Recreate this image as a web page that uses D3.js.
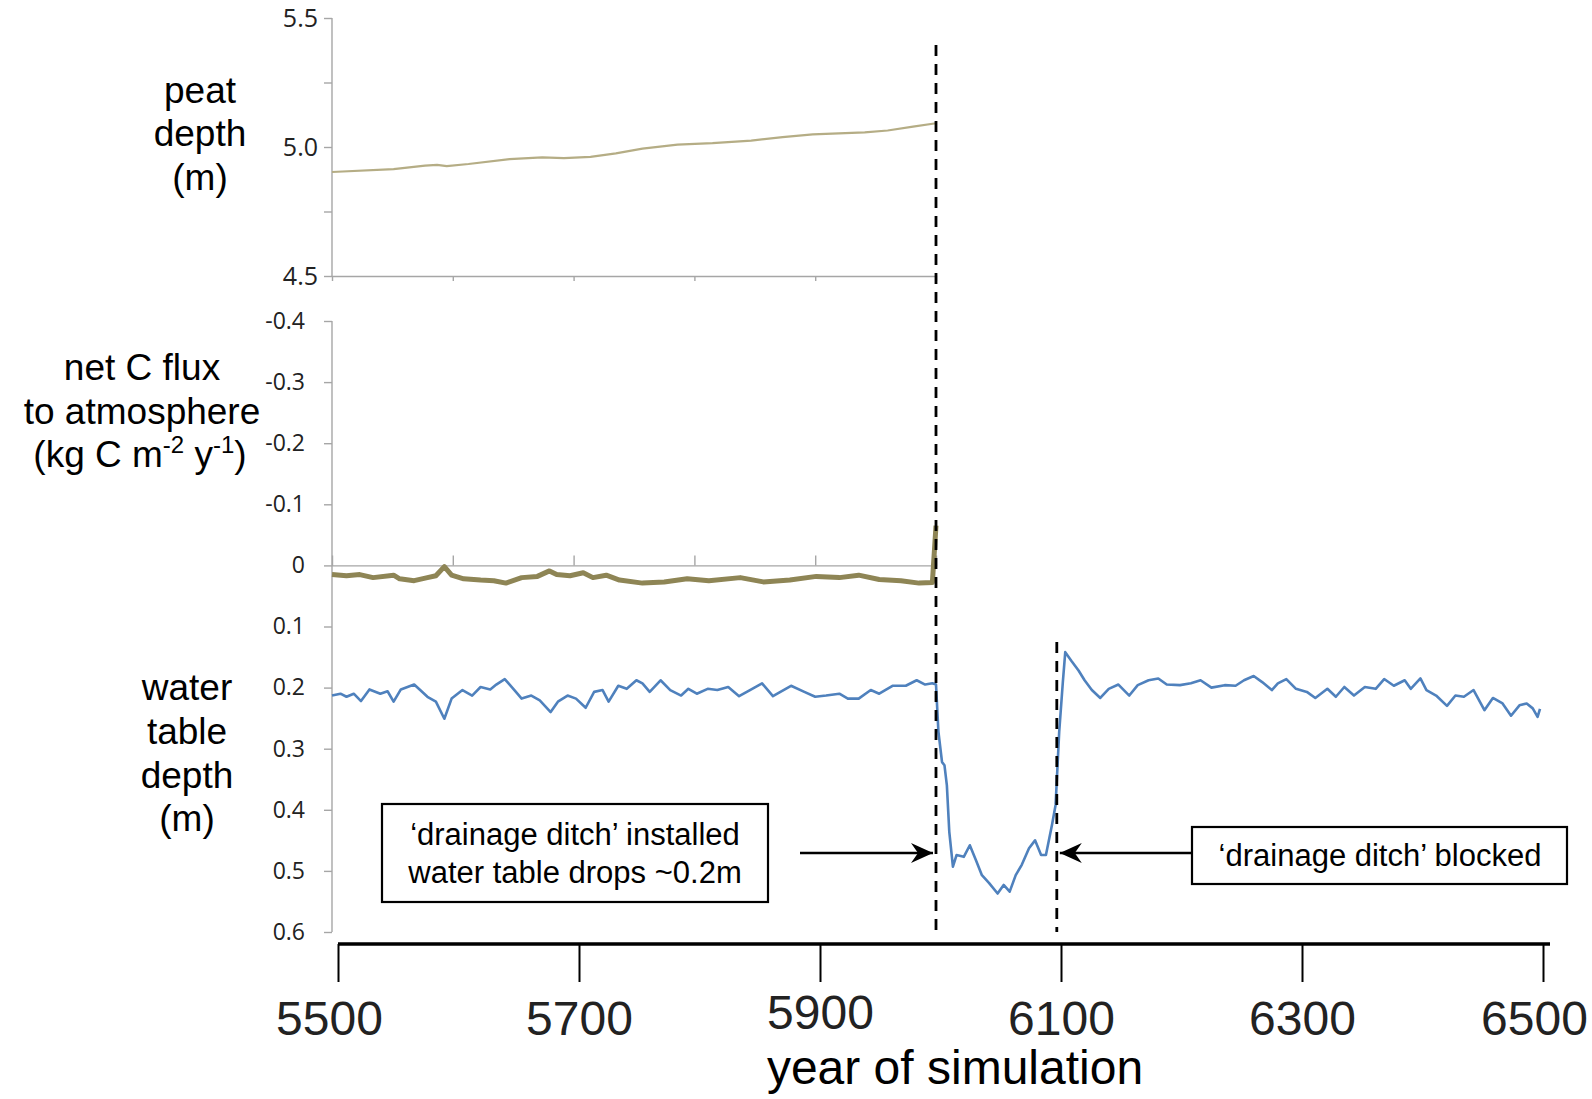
<!DOCTYPE html>
<html>
<head>
<meta charset="utf-8">
<script src="https://cdn.jsdelivr.net/npm/d3@7"></script>
<style>
  body { margin: 0; background: #fff; }
  .tick text { font-family: "Open Sans", sans-serif; fill: #222; }
</style>
</head>
<body>
<script>
// DATA
const peatYears = [5500,5551,5577,5587,5595,5613,5647,5674,5692,5714,5735,5757,5786,5815,5847,5873,5898,5941,5960,5981,6000];
const peatDepth = [4.903,4.914,4.928,4.931,4.926,4.934,4.953,4.960,4.957,4.962,4.975,4.994,5.009,5.015,5.025,5.038,5.049,5.057,5.064,5.079,5.092];

const fluxYears = [5500,5512,5523,5534,5551,5556,5568,5579,5586,5593,5599,5609,5623,5634,5644,5657,5670,5680,5686,5697,5708,5716,5727,5738,5757,5775,5794,5812,5838,5857,5879,5901,5920,5936,5953,5971,5986,5997,6000];
const fluxValues = [0.015,0.017,0.015,0.020,0.016,0.022,0.025,0.020,0.017,0.002,0.016,0.022,0.024,0.025,0.029,0.020,0.018,0.009,0.015,0.017,0.012,0.020,0.016,0.024,0.029,0.027,0.022,0.025,0.020,0.027,0.024,0.018,0.020,0.016,0.023,0.025,0.029,0.028,-0.065];

const waterYears = [5500,5507,5512,5518,5524,5531,5540,5546,5551,5557,5568,5573,5579,5586,5593,5599,5608,5616,5623,5631,5636,5643,5651,5657,5665,5672,5681,5687,5695,5702,5710,5717,5724,5729,5737,5744,5752,5757,5763,5772,5780,5789,5795,5802,5811,5819,5828,5837,5846,5856,5865,5880,5891,5900,5909,5920,5927,5936,5946,5953,5964,5975,5984,5991,5997,
  6000,6002,6005,6007,6009,6011,6014,6017,6023,6028,6033,6038,6044,6051,6056,6061,6066,6071,6077,6082,6087,6091,6096,6099,
  6102,6105,6107,6112,6118,6123,6129,6136,6143,6151,6160,6167,6176,6184,6191,6202,6211,6219,6228,6239,6248,6255,6263,6270,6278,6283,6290,6298,6307,6314,6324,6331,6338,6346,6355,6364,6371,6379,6388,6393,6401,6406,6414,6423,6430,6437,6445,6454,6461,6469,6476,6483,6489,6494,6498,6500];
const waterDepth = [0.213,0.210,0.215,0.210,0.222,0.203,0.210,0.206,0.223,0.203,0.195,0.204,0.215,0.223,0.251,0.218,0.204,0.213,0.199,0.203,0.195,0.186,0.204,0.218,0.213,0.221,0.240,0.223,0.213,0.218,0.233,0.207,0.204,0.223,0.197,0.202,0.188,0.193,0.207,0.188,0.204,0.213,0.202,0.210,0.202,0.204,0.199,0.214,0.204,0.193,0.214,0.197,0.207,0.215,0.213,0.210,0.218,0.218,0.204,0.210,0.197,0.197,0.188,0.195,0.193,
  0.195,0.272,0.322,0.327,0.360,0.436,0.493,0.474,0.477,0.458,0.482,0.507,0.520,0.537,0.523,0.534,0.507,0.490,0.463,0.450,0.474,0.474,0.425,0.392,
  0.272,0.191,0.142,0.156,0.172,0.188,0.204,0.217,0.202,0.195,0.213,0.196,0.188,0.185,0.195,0.196,0.193,0.188,0.200,0.196,0.197,0.188,0.181,0.191,0.204,0.193,0.186,0.202,0.207,0.217,0.202,0.215,0.199,0.213,0.199,0.202,0.186,0.197,0.188,0.202,0.185,0.204,0.213,0.230,0.213,0.215,0.204,0.237,0.217,0.226,0.246,0.229,0.226,0.234,0.248,0.235];

const topTicks = [4.5, 4.75, 5.0, 5.25, 5.5];
const topLabels = [4.5, 5.0, 5.5];
const lowTicks = [-0.4,-0.3,-0.2,-0.1,0,0.1,0.2,0.3,0.4,0.5,0.6];
const panelYearTicks = [5600, 5700, 5800, 5900];
const yearTicks = [5500, 5700, 5900, 6100, 6300, 6500];
const ditchYears = [6000, 6100];

//SIZES
const W = 1592, H = 1099;
const svg = d3.select("body").append("svg").attr("width", W).attr("height", H);

//SCALES
const x = d3.scaleLinear().domain([5500, 6500]).range([332, 1540]);
const yTop = d3.scaleLinear().domain([4.5, 5.5]).range([276, 18]);
const yLow = d3.scaleLinear().domain([-0.4, 0.6]).range([321, 932]);
const xBottom = d3.scaleLinear().domain([5500, 6500]).range([338, 1543]);

const grey = "#a6a6a6";

//TOP Y AXIS
const topAxis = svg.append("g").attr("transform", `translate(${x(5500)},0)`)
  .call(d3.axisLeft(yTop).tickValues(topTicks).tickSize(8).tickPadding(6)
    .tickFormat(d => topLabels.includes(d) ? d3.format(".1f")(d) : ""));
topAxis.selectAll("text").style("font-size", "25px");

//TOP X AXIS (4.5 line)
const topX = svg.append("g").attr("transform", `translate(0,${yTop(4.5)})`)
  .call(d3.axisBottom(x.copy().domain([5500, 6000]).range([x(5500), x(6000)])).tickValues(panelYearTicks).tickSize(5).tickFormat(""));

//LOWER Y AXIS
const lowAxis = svg.append("g").attr("transform", `translate(${x(5500)},0)`)
  .call(d3.axisLeft(yLow).tickValues(lowTicks).tickSize(8).tickPadding(19)
    .tickFormat(d => d === 0 ? "0" : d3.format(".1f")(d).replace("−", "-")));
lowAxis.selectAll("text").style("font-size", "23px");

//ZERO LINE of flux panel
const zeroAxis = svg.append("g").attr("transform", `translate(0,${yLow(0)})`)
  .call(d3.axisTop(x.copy().domain([5500, 6000]).range([x(5500), x(6000)])).tickValues(panelYearTicks).tickSize(10).tickFormat(""));

[topAxis, topX, lowAxis, zeroAxis].forEach(g => {
  g.selectAll("path.domain").attr("stroke", grey).attr("stroke-width", 1.4);
  g.selectAll(".tick line").attr("stroke", grey).attr("stroke-width", 1.4);
});
topAxis.select("path.domain").attr("d", `M0,${yTop(5.5)}V${yTop(4.5)}`);
lowAxis.select("path.domain").attr("d", `M0,${yLow(-0.4)}V${yLow(0.6)}`);

//LINES
const line = (xs, ys, yScale) => d3.line().x(i => x(xs[i])).y(i => yScale(ys[i]))(d3.range(xs.length));

svg.append("path").attr("fill", "none").attr("stroke", "#b5ad85").attr("stroke-width", 2.2)
  .attr("d", line(peatYears, peatDepth, yTop));

svg.append("path").attr("fill", "none").attr("stroke", "#8e8555").attr("stroke-width", 5)
  .attr("stroke-linejoin", "round")
  .attr("d", line(fluxYears, fluxValues, yLow));

svg.append("path").attr("fill", "none").attr("stroke", "#4f81bd").attr("stroke-width", 2.6)
  .attr("stroke-linejoin", "round")
  .attr("d", line(waterYears, waterDepth, yLow));

//DASHED LINES
const dashTops = [45, 642];
svg.selectAll(".ditch").data(ditchYears).join("line").classed("ditch", true)
  .attr("x1", d => x(d)).attr("x2", d => x(d))
  .attr("y1", (d, i) => dashTops[i]).attr("y2", yLow(0.6))
  .attr("stroke", "#000").attr("stroke-width", 2.8).attr("stroke-dasharray", "11,8");

//ARROWS
svg.append("defs").append("marker").attr("id", "arr")
  .attr("markerUnits", "userSpaceOnUse").attr("markerWidth", 24).attr("markerHeight", 22)
  .attr("refX", 22).attr("refY", 10).attr("orient", "auto")
  .append("path").attr("d", "M0,0 L22,10 L0,20 L7,10 Z").attr("fill", "#000");

const arrowY = 853;
svg.append("line").attr("x1", 800).attr("x2", x(6000) - 3).attr("y1", arrowY).attr("y2", arrowY)
  .attr("stroke", "#000").attr("stroke-width", 2.5).attr("marker-end", "url(#arr)");
svg.append("line").attr("x1", 1192).attr("x2", x(6100) + 3).attr("y1", arrowY).attr("y2", arrowY)
  .attr("stroke", "#000").attr("stroke-width", 2.5).attr("marker-end", "url(#arr)");

//BOXES
const font = "'Liberation Sans', Arial, sans-serif";
svg.append("rect").attr("x", 382).attr("y", 804).attr("width", 386).attr("height", 98)
  .attr("fill", "#fff").attr("stroke", "#000").attr("stroke-width", 2.2);
svg.append("text").attr("x", 575).attr("y", 845).attr("text-anchor", "middle")
  .style("font-family", font).style("font-size", "31px").text("‘drainage ditch’ installed");
svg.append("text").attr("x", 575).attr("y", 883).attr("text-anchor", "middle")
  .style("font-family", font).style("font-size", "31px").text("water table drops ~0.2m");

svg.append("rect").attr("x", 1192).attr("y", 827).attr("width", 375).attr("height", 57)
  .attr("fill", "#fff").attr("stroke", "#000").attr("stroke-width", 2.2);
svg.append("text").attr("x", 1380).attr("y", 866).attr("text-anchor", "middle")
  .style("font-family", font).style("font-size", "31px").text("‘drainage ditch’ blocked");

//LEFT TITLES
const titles = [
  {x: 200, y: 103, t: "peat"}, {x: 200, y: 146, t: "depth"}, {x: 200, y: 190, t: "(m)"},
  {x: 142, y: 380, t: "net C flux"}, {x: 142, y: 424, t: "to atmosphere"},
  {x: 187, y: 700, t: "water"}, {x: 187, y: 744, t: "table"}, {x: 187, y: 788, t: "depth"}, {x: 187, y: 831, t: "(m)"}
];
svg.selectAll(".title").data(titles).join("text").classed("title", true)
  .attr("x", d => d.x).attr("y", d => d.y).attr("text-anchor", "middle")
  .style("font-family", font).style("font-size", "37px").text(d => d.t);

const unit = svg.append("text").attr("x", 140).attr("y", 467).attr("text-anchor", "middle")
  .style("font-family", font).style("font-size", "37px");
unit.append("tspan").text("(kg C m");
unit.append("tspan").attr("dy", -14).style("font-size", "24px").text("-2");
unit.append("tspan").attr("dy", 14).text(" y");
unit.append("tspan").attr("dy", -14).style("font-size", "24px").text("-1");
unit.append("tspan").attr("dy", 14).text(")");

//BOTTOM AXIS
const bottom = svg.append("g").attr("transform", "translate(0,944)")
  .call(d3.axisBottom(xBottom).tickValues(yearTicks).tickSize(38).tickPadding(14).tickSizeOuter(0).tickFormat(d3.format("d")));
bottom.select("path.domain").attr("stroke", "#000").attr("stroke-width", 3.5).attr("d", "M338,0H1550");
bottom.selectAll(".tick line").attr("stroke", "#000").attr("stroke-width", 2);
bottom.selectAll("text").style("font-family", font).style("font-size", "48px").attr("fill", "#000")
  .attr("y", 91).attr("dy", d => d === 5900 ? -6 : 0)
  .attr("dx", d => (d === 5500 || d === 6500) ? -9 : 0);

svg.append("text").attr("x", 955).attr("y", 1084).attr("text-anchor", "middle")
  .style("font-family", font).style("font-size", "48px").text("year of simulation");
</script>
</body>
</html>
